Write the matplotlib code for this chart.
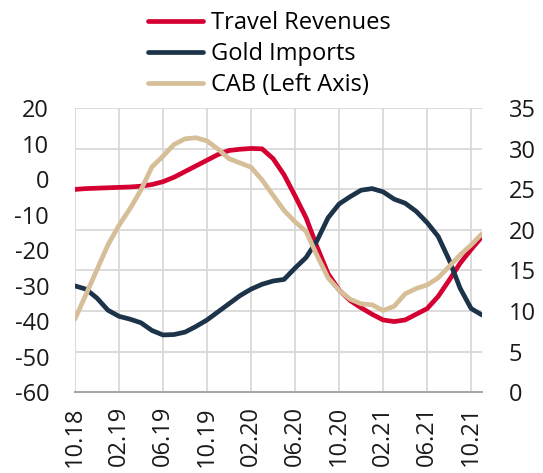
import matplotlib.pyplot as plt
import matplotlib

matplotlib.rc('font', family=['Open Sans', 'DejaVu Sans'], size=17)
matplotlib.rcParams['axes.unicode_minus'] = False

months = ["10.18", "11.18", "12.18", "01.19", "02.19", "03.19", "04.19", "05.19",
          "06.19", "07.19", "08.19", "09.19", "10.19", "11.19", "12.19", "01.20",
          "02.20", "03.20", "04.20", "05.20", "06.20", "07.20", "08.20", "09.20",
          "10.20", "11.20", "12.20", "01.21", "02.21", "03.21", "04.21", "05.21",
          "06.21", "07.21", "08.21", "09.21", "10.21", "11.21"]

# right axis
travel = [25.0, 25.1, 25.15, 25.2, 25.25, 25.3, 25.4, 25.6, 25.95, 26.5,
          27.2, 27.9, 28.6, 29.3, 29.8, 29.95, 30.05, 30.0, 28.8, 26.8,
          24.2, 21.5, 17.9, 14.6, 12.6, 11.3, 10.4, 9.6, 8.9, 8.7,
          8.9, 9.6, 10.3, 11.8, 13.8, 15.9, 17.6, 19.2]
gold = [13.1, 12.7, 11.6, 10.1, 9.35, 9.0, 8.55, 7.6, 7.05, 7.1,
        7.4, 8.1, 8.9, 9.9, 10.9, 11.9, 12.7, 13.3, 13.7, 13.9,
        15.3, 16.6, 18.7, 21.5, 23.2, 24.1, 24.9, 25.1, 24.7, 23.8,
        23.3, 22.3, 20.9, 19.2, 16.3, 12.8, 10.3, 9.5]
# left axis
cab = [-39.4, -32.5, -25.5, -18.5, -13.0, -8.3, -3.0, 3.5, 6.5, 9.8,
       11.4, 11.7, 10.8, 8.5, 5.8, 4.6, 3.4, -0.2, -4.5, -8.8,
       -12.0, -14.7, -21.5, -27.8, -31.3, -33.8, -35.1, -35.4, -37.0, -35.8,
       -32.3, -30.8, -29.8, -27.8, -24.6, -21.3, -18.5, -15.3]

red = '#D50032'
navy = '#1D334A'
beige = '#D6BF98'

x = list(range(len(months)))

fig = plt.figure(figsize=(5.43, 4.73), dpi=100)
ax = fig.add_axes([0.138, 0.171, 0.750, 0.600])
ax2 = ax.twinx()

l1, = ax.plot(x, travel, color=red, lw=3.4, label="Travel Revenues", solid_capstyle='round')
l2, = ax.plot(x, gold, color=navy, lw=3.4, label="Gold Imports", solid_capstyle='round')
l3, = ax2.plot(x, cab, color=beige, lw=3.4, label="CAB (Left Axis)", solid_capstyle='round')

ax.set_xlim(0, len(months) - 1)
ax.set_ylim(0, 35)
ax.set_yticks(range(0, 36, 5))
ax2.set_ylim(-60, 20)
ax2.set_yticks(range(-60, 21, 10))

ax.yaxis.set_ticks_position('right')
ax.yaxis.set_label_position('right')
ax2.yaxis.set_ticks_position('left')
ax2.yaxis.set_label_position('left')

ax.set_xticks(x[::4])
ax.set_xticklabels(months[::4], rotation=90)

ax.grid(True, color='#D9D9D9', lw=1.3)
ax.set_axisbelow(True)

for a in (ax, ax2):
    for s in ('top', 'left', 'right'):
        a.spines[s].set_visible(False)
    a.spines['bottom'].set_color('#A6A6A6')
    a.spines['bottom'].set_linewidth(1.3)
    a.tick_params(length=0, colors='#1a1a1a', labelsize=17)
ax.tick_params(axis='y', pad=19)
ax2.tick_params(axis='y', pad=18.5)
ax.tick_params(axis='x', pad=10)

fig.legend(handles=[l1, l2, l3], loc='upper left', bbox_to_anchor=(148 / 543, 1 - 11 / 473),
           frameon=False, fontsize=17, handlelength=2.35, handletextpad=0.3,
           labelspacing=0.3, borderpad=0, borderaxespad=0)

fig.savefig("out.png", dpi=100)
